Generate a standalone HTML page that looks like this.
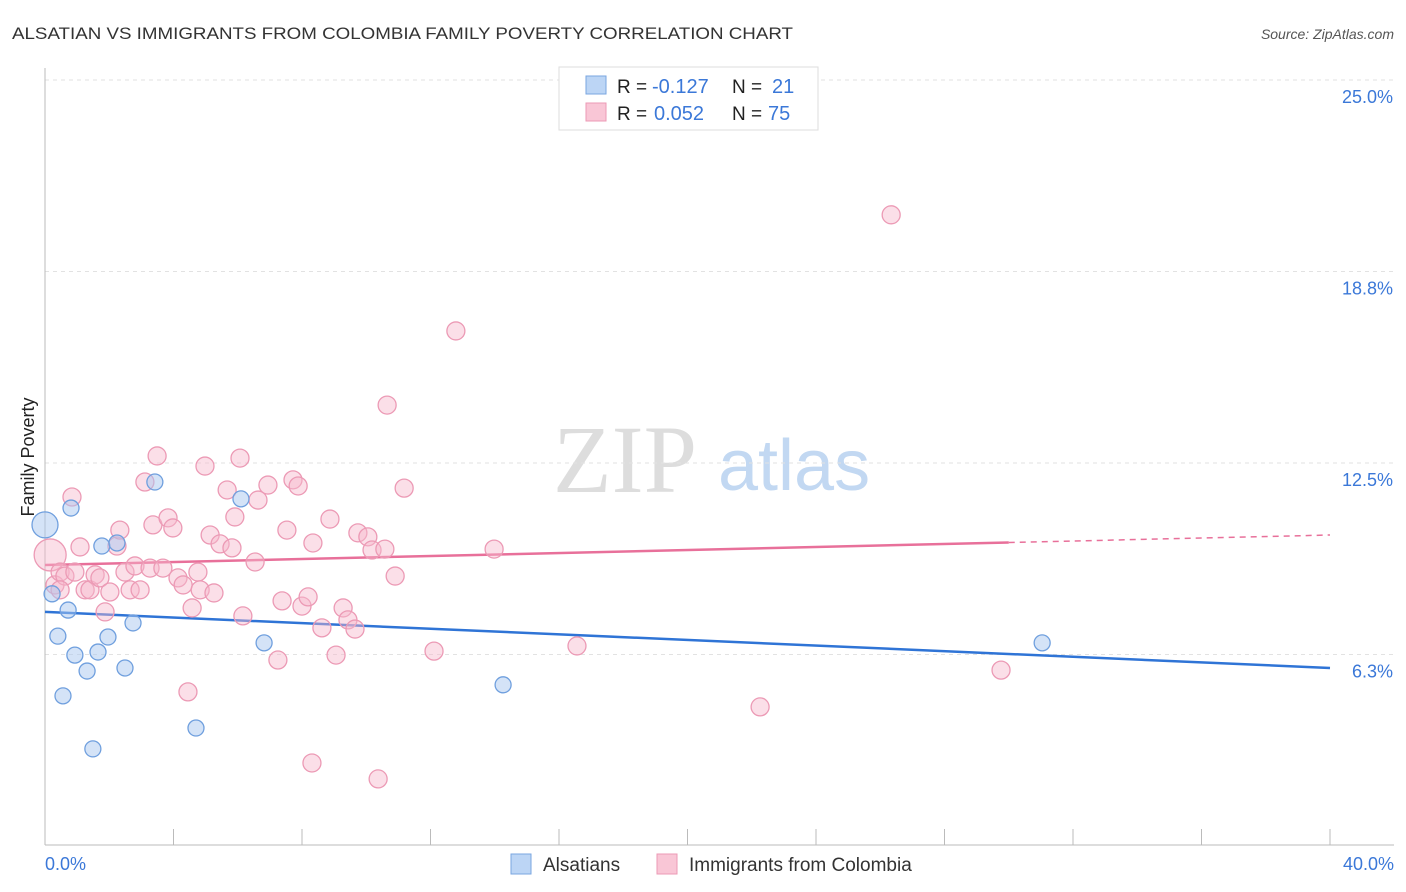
<!DOCTYPE html>
<html><head><meta charset="utf-8"><style>
body{margin:0;background:#fff;font-family:"Liberation Sans",sans-serif;}
svg{display:block}
</style></head><body>
<svg id="chart" width="1406" height="892" xmlns="http://www.w3.org/2000/svg">
<text x="12" y="39" font-size="17" fill="#333" textLength="781" lengthAdjust="spacingAndGlyphs">ALSATIAN VS IMMIGRANTS FROM COLOMBIA FAMILY POVERTY CORRELATION CHART</text>
<text x="1394" y="39" font-size="14" fill="#555" font-style="italic" text-anchor="end">Source: ZipAtlas.com</text>
<g>
<text x="553" y="492" font-size="96" fill="#ddd" font-family="Liberation Serif,serif">ZIP</text>
<text x="718" y="490" font-size="72" fill="#c2d8f2">atlas</text>
</g>
<g id="grid"></g>
<g id="axes"></g>
<g id="trend"></g>
<g id="points"></g>
<text transform="translate(34,457) rotate(-90)" font-size="18" fill="#222" text-anchor="middle">Family Poverty</text>
<g>
<rect x="559" y="67" width="259" height="63" fill="#fff" stroke="#ddd"/>
<rect x="586" y="76" width="20" height="18" fill="#bcd5f5" stroke="#7aa6e0"/>
<text x="617" y="93" font-size="19" fill="#222">R =</text>
<text x="652" y="93" font-size="20" fill="#3b78d8">-0.127</text>
<text x="732" y="93" font-size="19" fill="#222">N =</text>
<text x="772" y="93" font-size="20" fill="#3b78d8">21</text>
<rect x="586" y="103" width="20" height="18" fill="#f9c6d6" stroke="#ec9ab5"/>
<text x="617" y="120" font-size="19" fill="#222">R =</text>
<text x="654" y="120" font-size="20" fill="#3b78d8">0.052</text>
<text x="732" y="120" font-size="19" fill="#222">N =</text>
<text x="768" y="120" font-size="20" fill="#3b78d8">75</text>
</g>
<g>
<rect x="511" y="854" width="20" height="20" fill="#bcd5f5" stroke="#7aa6e0"/>
<text x="543" y="871" font-size="19" fill="#333">Alsatians</text>
<rect x="657" y="854" width="20" height="20" fill="#f9c6d6" stroke="#ec9ab5"/>
<text x="689" y="871" font-size="19" fill="#333">Immigrants from Colombia</text>
</g>
</svg>
<script>
const yTicks=[25.0,18.8,12.5,6.3];
const yTickVals=[25,18.75,12.5,6.25];
const xTickLabels=["0.0%","40.0%"];
const blueX=[0,0.81,0.22,0.72,0.40,0.93,0.56,1.31,1.65,1.77,1.96,2.24,2.49,2.74,3.42,1.49,4.70,6.10,6.82,14.26,31.04];
const blueY=[10.48,11.03,8.23,7.70,6.85,6.23,4.90,5.71,6.33,9.79,6.82,9.89,5.81,7.28,11.88,3.17,3.85,11.33,6.63,5.26,6.63];
const pinkX=[0.16,0.31,0.47,0.62,0.84,0.93,1.09,1.25,1.40,1.56,1.71,1.87,2.02,2.24,2.33,2.49,2.65,2.80,2.96,3.11,3.27,3.36,3.49,3.67,3.83,3.98,4.14,4.30,4.45,4.58,4.76,4.83,4.98,5.14,5.26,5.45,5.67,5.82,5.91,6.07,6.16,6.54,6.63,6.94,7.25,7.38,7.53,7.72,7.88,8.00,8.19,8.31,8.34,8.62,8.87,9.06,9.28,9.43,9.65,9.74,10.05,10.18,10.37,10.58,10.65,10.90,11.18,12.11,12.79,13.98,16.56,22.26,26.34,29.76,0.47];
const pinkY=[9.50,8.52,8.94,8.81,11.39,8.94,9.76,8.36,8.36,8.85,8.75,7.64,8.29,9.79,10.31,8.94,8.36,9.14,8.36,11.88,9.07,10.48,12.73,9.07,10.71,10.38,8.75,8.52,5.03,7.77,8.94,8.36,12.40,10.15,8.26,9.86,11.62,9.73,10.74,12.66,7.51,9.27,11.29,11.78,6.07,8.00,10.31,11.95,11.75,7.83,8.13,2.71,9.89,7.12,10.67,6.23,7.77,7.38,7.08,10.22,10.09,9.66,2.19,9.69,14.39,8.81,11.68,6.36,16.81,9.69,6.53,4.54,20.60,5.74,8.36];
const blueTrend=[7.64,5.81];
const pinkTrend=[9.17,10.15];
const pinkSolidEnd=30;
const NS="http://www.w3.org/2000/svg";
const X=v=>45+v/40*1285, Y=v=>846-v*30.64;
function mk(tag,attrs,parent){const e=document.createElementNS(NS,tag);for(const k in attrs)e.setAttribute(k,attrs[k]);parent.appendChild(e);return e;}
const grid=document.getElementById('grid'),axes=document.getElementById('axes'),tr=document.getElementById('trend'),pts=document.getElementById('points');
yTickVals.forEach((v,i)=>{
 const l=mk('line',{x1:45,x2:1394,y1:Y(v),y2:Y(v),stroke:'#e2e2e2','stroke-dasharray':'4,4'},grid);
 
 
 const t=mk('text',{x:1393,y:Y(v)+23,'font-size':18,fill:'#3b78d8','text-anchor':'end'},axes);
 t.textContent=yTicks[i].toFixed(1)+'%';
 
 
});
mk('line',{x1:45,x2:45,y1:68,y2:845,stroke:'#bbb'},axes);
mk('line',{x1:45,x2:1394,y1:845,y2:845,stroke:'#bbb'},axes);
for(let i=0;i<=10;i++){const l=mk('line',{x1:X(i*4),x2:X(i*4),y1:829,y2:845,stroke:'#bbb'},axes);
 
 }
xTickLabels.forEach((s,i)=>{const t=mk('text',{x:i?1394:45,y:870,'font-size':18,fill:'#3b78d8','text-anchor':i?'end':'start'},axes);t.textContent=s;
 
 });
const bl=mk('line',{x1:X(0),y1:Y(blueTrend[0]),x2:X(40),y2:Y(blueTrend[1]),stroke:'#2f74d6','stroke-width':2.5},tr);


const pm=v=>pinkTrend[0]+(pinkTrend[1]-pinkTrend[0])*v/40;
const pl=mk('line',{x1:X(0),y1:Y(pm(0)),x2:X(pinkSolidEnd),y2:Y(pm(pinkSolidEnd)),stroke:'#e8709a','stroke-width':2.5},tr);


const pd=mk('line',{x1:X(pinkSolidEnd),y1:Y(pm(pinkSolidEnd)),x2:X(40),y2:Y(pm(40)),stroke:'#e8709a','stroke-width':1.5,'stroke-dasharray':'6,5'},tr);


pinkX.forEach((x,i)=>{const c=mk('circle',{cx:X(x),cy:Y(pinkY[i]),r:i===0?16:9,fill:'rgba(247,184,203,0.45)',stroke:'#ec9ab5','stroke-width':1.3},pts);
 
 });
blueX.forEach((x,i)=>{const c=mk('circle',{cx:X(x),cy:Y(blueY[i]),r:i===0?13:8,fill:'rgba(169,200,240,0.5)',stroke:'#6f9fde','stroke-width':1.3},pts);
 
 });
</script>
</body></html>
